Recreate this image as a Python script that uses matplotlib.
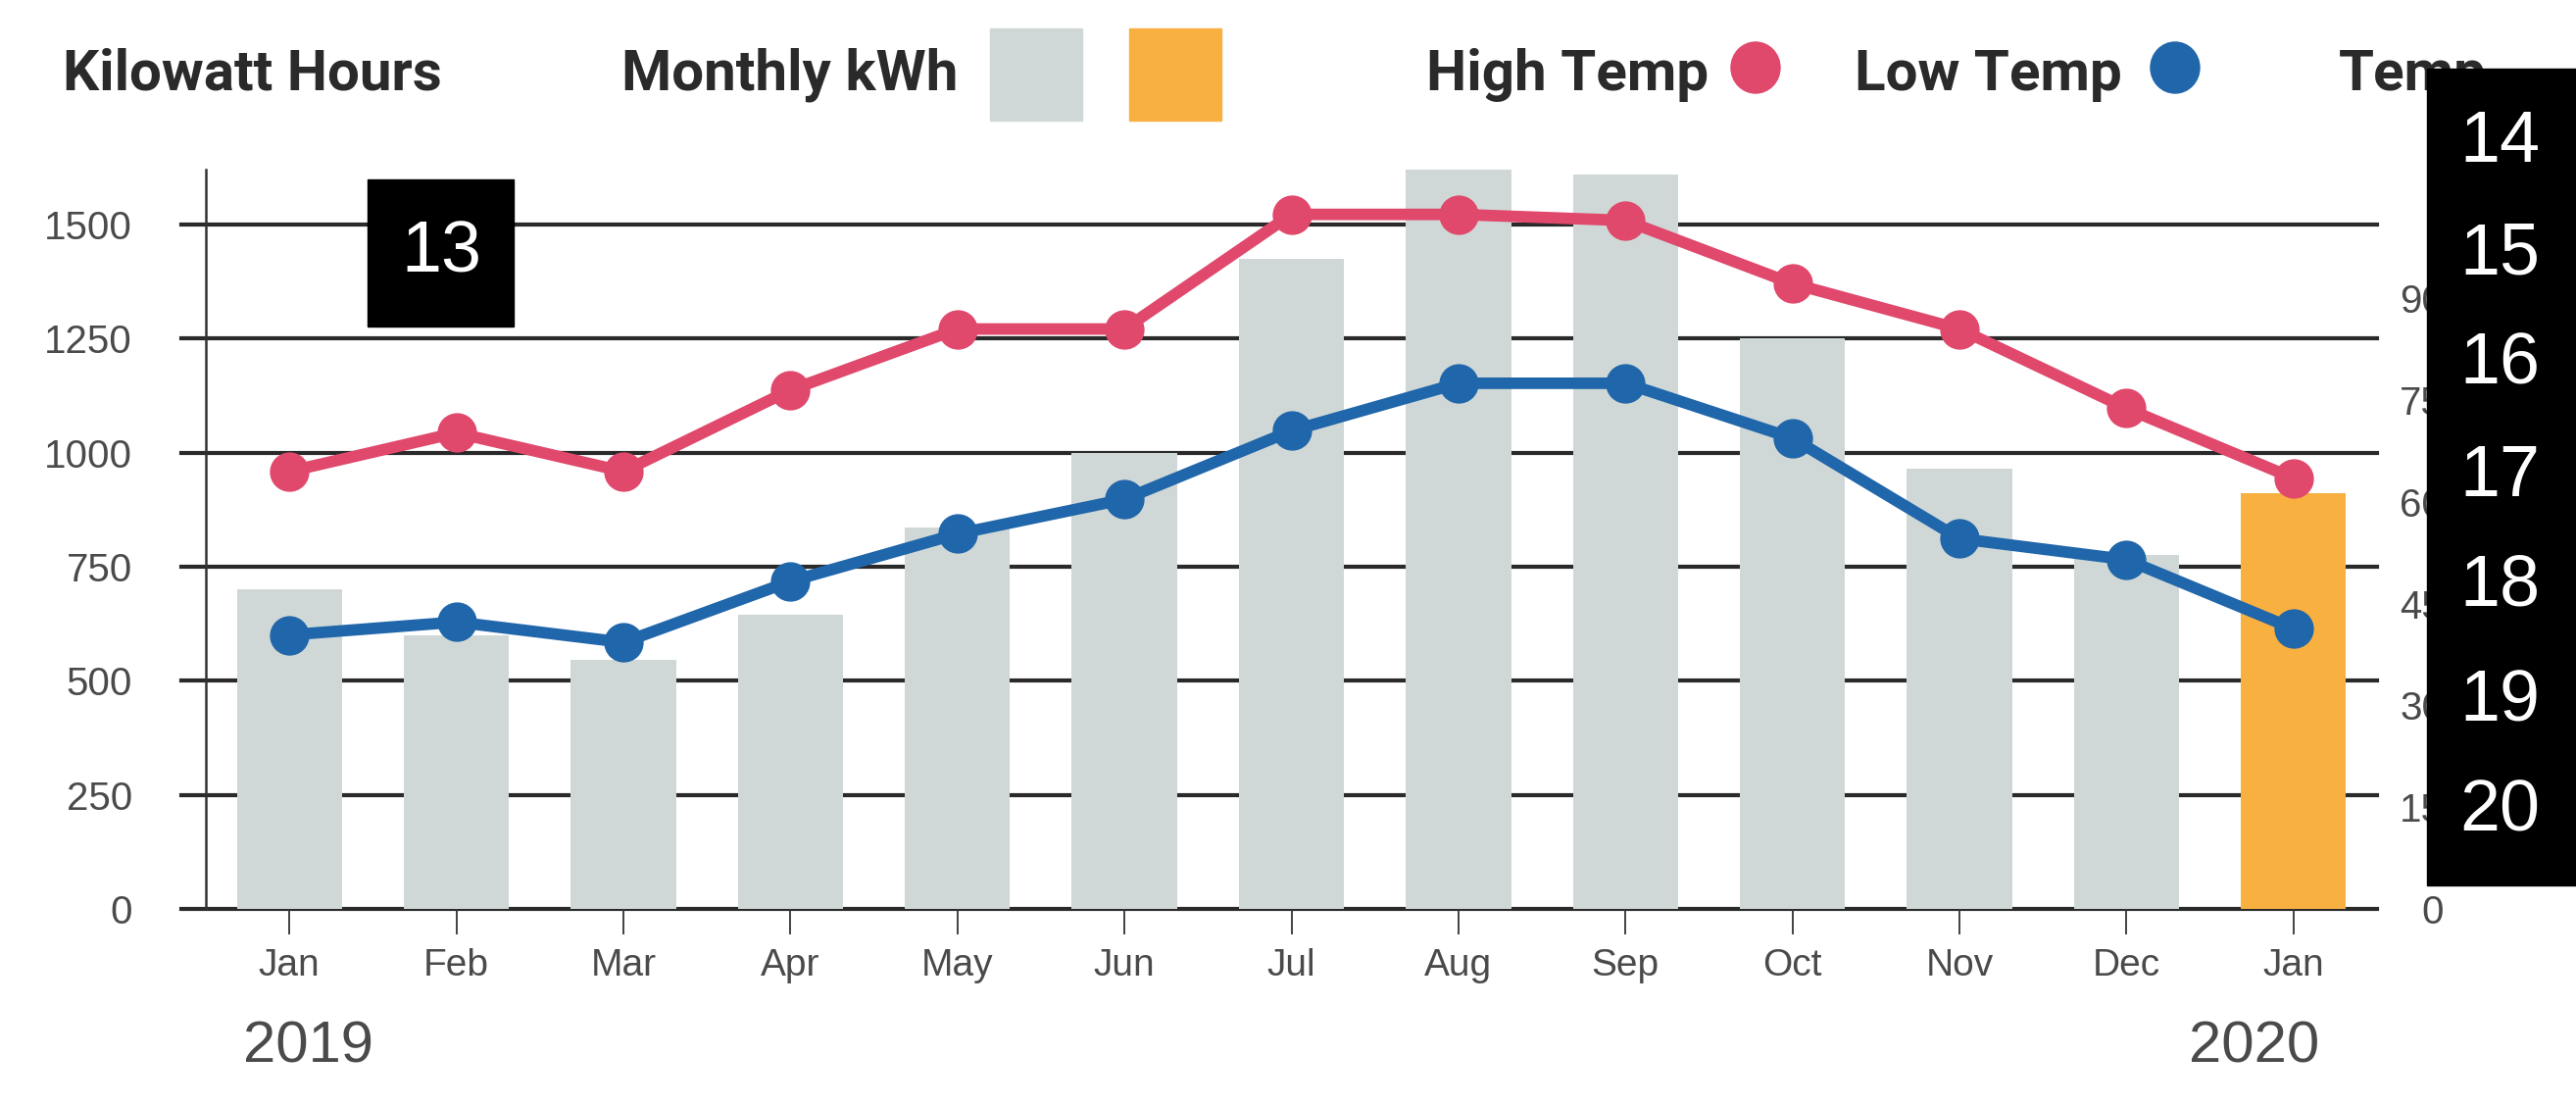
import matplotlib
matplotlib.use("Agg")
import matplotlib.pyplot as plt
from matplotlib import font_manager
from matplotlib.patches import Rectangle, Ellipse

# Data
months = ["Jan", "Feb", "Mar", "Apr", "May", "Jun", "Jul", "Aug", "Sep", "Oct", "Nov", "Dec", "Jan"]
kwh = [700, 600, 545, 645, 835, 1000, 1425, 1620, 1610, 1250, 965, 775, 910]
high_temp = [64.5, 70.2, 64.5, 76.5, 85.5, 85.5, 102.4, 102.4, 101.5, 92.2, 85.5, 73.8, 63.5]
low_temp = [40.4, 42.3, 39.3, 48.3, 55.3, 60.4, 70.5, 77.5, 77.5, 69.4, 54.6, 51.5, 41.3]
kwh_ticks = [0, 250, 500, 750, 1000, 1250, 1500]
temp_ticks = [0, 15, 30, 45, 60, 75, 90]
years = ["2019", "2020"]
box_numbers = ["13", "14", "15", "16", "17", "18", "19", "20"]

GRAY = "#cfd8d6"
ORANGE = "#f8b040"
RED = "#e0486c"
BLUE = "#2066aa"
INK = "#2a2a2a"
LABEL = "#4a4a4a"

W, H = 2628, 1128

installed = {f.name for f in font_manager.fontManager.ttflist}
if "Liberation Sans Narrow" in installed:
    head_font, head_size = "Liberation Sans Narrow", 47
else:
    head_font, head_size = "Roboto", 42
tick_font = "Liberation Sans" if "Liberation Sans" in installed else "DejaVu Sans"


def fx(px):
    return px / W


def fy(py):
    return 1 - py / H


fig = plt.figure(figsize=(W / 100, H / 100), dpi=100)
ax = fig.add_axes([fx(210), fy(927), (2425 - 210) / W, (927 - 173) / H])
ax2 = ax.twinx()

x = list(range(len(months)))
colors = [GRAY] * (len(months) - 1) + [ORANGE]

# gridlines (they also serve as the left tick marks)
for v in kwh_ticks:
    ax.axhline(v, xmin=-25 / 2215, xmax=1, color=INK, lw=3, zorder=0.5, clip_on=False)

ax.bar(x, kwh, width=0.63, color=colors, zorder=2)
ax.set_xlim(-0.5, 12.5)
ax.set_ylim(0, 1620)
ax.set_yticks(kwh_ticks)
ax.set_yticklabels([str(v) for v in kwh_ticks], fontfamily=tick_font, fontsize=29, color=LABEL)
ax.tick_params(axis="y", length=0, pad=54)
ax.set_xticks(x)
ax.set_xticklabels(months, fontfamily=tick_font, fontsize=28, color=LABEL)
ax.tick_params(axis="x", length=19, width=1.3, color="#333333", pad=10)
for s in ["top", "right", "bottom"]:
    ax.spines[s].set_visible(False)
ax.spines["left"].set_color("#333333")
ax.spines["left"].set_linewidth(1.8)

ax2.plot(x, high_temp, color=RED, lw=8.5, marker="o", markersize=28, zorder=3, clip_on=False)
ax2.plot(x, low_temp, color=BLUE, lw=8.5, marker="o", markersize=28, zorder=3, clip_on=False)
ax2.set_ylim(0, 109)
ax2.set_yticks(temp_ticks)
ax2.set_yticklabels([str(v) for v in temp_ticks], fontfamily=tick_font, fontsize=29, color=LABEL)
for lab in ax2.get_yticklabels():
    lab.set_horizontalalignment("right")
ax2.tick_params(axis="y", length=0, pad=49)
for s in ["top", "right", "bottom", "left"]:
    ax2.spines[s].set_visible(False)

# year labels
fig.text(fx(248), fy(1068), years[0], fontfamily=tick_font, fontsize=43, color=LABEL, va="center")
fig.text(fx(2233), fy(1068), years[1], fontfamily=tick_font, fontsize=43, color=LABEL, va="center")

# header row
head = dict(fontfamily=head_font, fontweight="bold", fontsize=head_size, color=INK, va="baseline", zorder=3)
fig.text(fx(64), fy(92), "Kilowatt Hours", **head)
fig.text(fx(977), fy(92), "Monthly kWh", ha="right", **head)
fig.text(fx(1743), fy(92), "High Temp", ha="right", **head)
fig.text(fx(2165), fy(92), "Low Temp", ha="right", **head)
fig.text(fx(2386), fy(92), "Temp", **head)

fig.add_artist(Rectangle((fx(1010), fy(123)), 94 / W, 94 / H, transform=fig.transFigure, color=GRAY, zorder=3))
fig.add_artist(Rectangle((fx(1152), fy(123)), 94 / W, 94 / H, transform=fig.transFigure, color=ORANGE, zorder=3))
fig.add_artist(Ellipse((fx(1791), fy(69)), 50 / W, 52 / H, transform=fig.transFigure, color=RED, zorder=3))
fig.add_artist(Ellipse((fx(2219), fy(69)), 50 / W, 52 / H, transform=fig.transFigure, color=BLUE, zorder=3))

# black number boxes laid over the chart
fig.add_artist(Rectangle((fx(375), fy(333)), 149 / W, 150 / H, transform=fig.transFigure, color="black", zorder=10))
fig.text(fx(450), fy(258), box_numbers[0], fontfamily=tick_font, fontsize=53, color="white",
         ha="center", va="center", zorder=11)
fig.add_artist(Rectangle((fx(2476), fy(903)), (W - 2476) / W, (903 - 70) / H, transform=fig.transFigure,
                         color="black", zorder=10))
num_y = [146, 260, 372, 486, 598, 716, 828]
for label, py in zip(box_numbers[1:], num_y):
    fig.text(fx(2550), fy(py), label, fontfamily=tick_font, fontsize=53, color="white",
             ha="center", va="center", zorder=11)

fig.savefig("out.png", dpi=100, facecolor="white")
